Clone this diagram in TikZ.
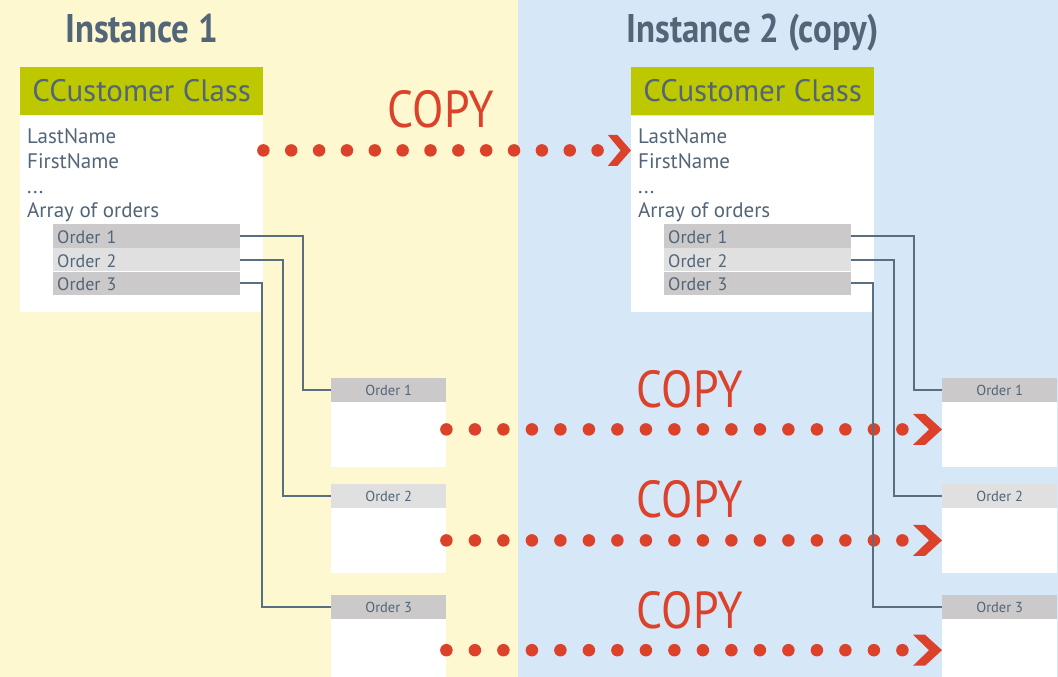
\documentclass[tikz,border=0pt]{standalone}
\usepackage{fontspec}
\setmainfont{PT Sans}
\newfontfamily\copyfont[FakeStretch=0.88]{PT Sans}
\newfontfamily\titlefont[FakeStretch=0.87]{PT Sans}
\usepackage{tikz}
\usetikzlibrary{positioning, calc}
\definecolor{CCSlate}{RGB}{82,101,121}
\definecolor{CCLime}{RGB}{189,200,0}
\definecolor{CCYellow}{RGB}{253,248,207}
\definecolor{CCBlue}{RGB}{214,231,248}
\definecolor{CCRed}{RGB}{220,65,42}
\definecolor{CCGray}{RGB}{203,201,202}
\definecolor{CCLightGray}{RGB}{224,224,224}
\definecolor{CCLine}{RGB}{90,110,130}

\begin{document}
\begin{tikzpicture}[x=1pt, y=-1pt,
    classhead/.style={fill=CCLime, text=CCSlate, minimum width=243pt,
      minimum height=48pt, inner sep=0pt, text height=21pt, text depth=0pt,
      font=\fontsize{31}{33}\selectfont, anchor=north west},
    classbody/.style={fill=white, minimum width=243pt, minimum height=196pt,
      inner sep=0pt},
    field/.style={text=CCSlate, font=\fontsize{21}{24}\selectfont,
      inner sep=0pt, anchor=base west},
    orderrow/.style={text=CCSlate, font=\fontsize{18}{20}\selectfont,
      text width=179pt, inner xsep=4pt, inner ysep=0pt, minimum height=23.3pt,
      text height=16pt, text depth=1pt},
    orderhead/.style={text=CCSlate, font=\fontsize{14.5}{16}\selectfont,
      minimum width=115pt, minimum height=23.3pt, inner sep=0pt,
      text height=11pt, text depth=0pt, anchor=north west},
    orderbody/.style={fill=white, minimum width=115pt, inner sep=0pt},
    wire/.style={CCLine, line width=2pt},
    copydots/.style={CCRed, line width=12.5pt, line cap=round,
      dash pattern=on 0pt off #1},
    copydots/.default=28.5pt,
    copylabel/.style={text=CCRed, font=\copyfont\fontsize{52}{54}\selectfont,
      inner sep=0pt, anchor=base},
    headline/.style={text=CCSlate,
      font=\titlefont\bfseries\fontsize{40}{42}\selectfont,
      inner sep=0pt, anchor=base},
    copytip/.pic={\fill[CCRed] (-29,-15.5) -- (-17,-15.5) -- (0,0)
      -- (-17,15.5) -- (-29,15.5) -- (-13,0) -- cycle;}
  ]
  \useasboundingbox (0,0) rectangle (1058,677);
  % ---- Backgrounds ----
  \fill[CCYellow] (0,0) rectangle (518,677);
  \fill[CCBlue] (518,0) rectangle (1058,677);

  % ---- Both instances: class box with fields ----
  \foreach \s/\x/\t in {L/20/Instance 1, R/631/Instance 2 (copy)} {
    \node[headline] (title\s) at (\x+121.5,43) {\t};
    \node[classhead] (class\s) at (\x,67) {CCustomer Class};
    \node[classbody, below=0pt of class\s] (body\s) {};
    \node[field] (field\s1) at (\x+7,143) {LastName};
    \node[field] (field\s2) at (\x+7,168) {FirstName};
    \node[field] (field\s3) at (\x+7,193) {...};
    \node[field] (field\s4) at (\x+7,217) {Array of orders};
    % array rows
    \node[orderrow, fill=CCGray, anchor=north west] (row\s1) at (\x+33,224) {Order 1};
    \node[orderrow, fill=CCLightGray, below=0pt of row\s1] (row\s2) {Order 2};
    \node[orderrow, fill=CCGray, below=0pt of row\s2] (row\s3) {Order 3};
  }

  % ---- Order objects ----
  \foreach \s/\x in {L/331, R/942} {
    \foreach \i/\y/\c/\h in {1/378/CCGray/65, 2/484/CCLightGray/65,
                             3/595/CCGray/59} {
      \node[orderhead, fill=\c] (ord\s\i) at (\x,\y) {Order \i};
      \node[orderbody, minimum height=\h pt, below=0pt of ord\s\i] (ordbody\s\i) {};
    }
  }

  % ---- Copy arrows ----
  \draw[copydots=27.85pt] ($(classL.south east)+(0,35)$)
        -- ($(classR.south west)+(-33,35)$);
  \pic[xscale=0.8] at ($(classR.south west)+(0,35)$) {copytip};
  \foreach \i/\dy in {1/27.7, 2/32.7, 3/31.5} {
    \draw[copydots] ($(ordbodyL\i.north east)+(0,\dy)$)
          -- ($(ordbodyR\i.north west)+(-39,\dy)$);
    \pic at ($(ordbodyR\i.north west)+(0,\dy)$) {copytip};
  }

  % ---- References from the array to the orders ----
  \foreach \s in {L,R} {
    \foreach \i/\d in {1/63, 2/43, 3/22} {
      \draw[wire] (row\s\i.east) -- ++(\d,0) |- (ord\s\i.west);
    }
  }

  % ---- Labels ----
  \node[copylabel] (copyTop) at (441,128) {COPY};
  \foreach \i/\y in {1/407, 2/517, 3/628} {
    \node[copylabel] (copy\i) at (690,\y) {COPY};
  }
\end{tikzpicture}
\end{document}
